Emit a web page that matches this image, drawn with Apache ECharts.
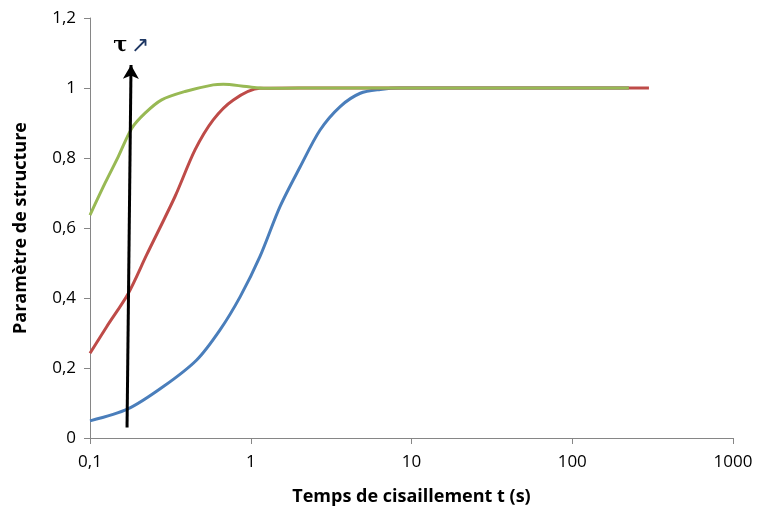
<!DOCTYPE html>
<html>
<head>
<meta charset="utf-8">
<script src="https://cdn.jsdelivr.net/npm/echarts@6/dist/echarts.min.js"></script>
<style>
    html, body { margin: 0; padding: 0; background: #fff; }
    #chart { width: 758px; height: 515px; }
</style>
</head>
<body>
<div id="chart"></div>
<script>
    // values (x in s, log scale)
    var blueData = [
        [0.1, 0.049], [0.172, 0.083], [0.286, 0.147], [0.461, 0.223], [0.644, 0.309],
        [0.86, 0.404], [1.14, 0.518], [1.52, 0.661], [2.03, 0.775], [2.7, 0.88],
        [3.6, 0.947], [4.8, 0.985], [6.4, 0.996], [8.5, 1.0], [20, 1.0], [50, 1.0],
        [100, 1.0], [225, 1.0]
    ];
    var redData = [
        [0.1, 0.242], [0.127, 0.318], [0.173, 0.413], [0.225, 0.523],
        [0.338, 0.69], [0.45, 0.823], [0.584, 0.909], [0.78, 0.966],
        [1.14, 0.999], [2, 1.0], [10, 1.0], [50, 1.0], [150, 1.0], [300, 1.0]
    ];
    var greenData = [
        [0.1, 0.637], [0.124, 0.728], [0.15, 0.804], [0.182, 0.885], [0.22, 0.928],
        [0.279, 0.966], [0.39, 0.99], [0.584, 1.009], [0.675, 1.011], [0.94, 1.004],
        [1.25, 0.999], [2, 1.0], [10, 1.0], [50, 1.0], [150, 1.0], [225, 1.0]
    ];
    var arrowStart = [0.17, 0.03];
    var arrowEnd = [0.18, 1.066];
    var arrowText = "τ";

    var xTitle = "Temps de cisaillement t (s)";
    var yTitle = "Paramètre de structure";

    var axisColor = "#868686";
    var font = "'Open Sans', 'Noto Sans', sans-serif";

    function fmtNum(v) {
        return String(+(+v).toFixed(3)).replace(".", ",");
    }

    function lineSeries(name, data, color) {
        return {
            name: name,
            type: 'line',
            data: data,
            smooth: 0.3,
            showSymbol: false,
            lineStyle: { color: color, width: 3 },
            itemStyle: { color: color },
            z: 3
        };
    }

    var chart = echarts.init(document.getElementById('chart'));

    var arrowSeries = lineSeries('arrow', [], '#000');
    arrowSeries.markLine = {
        silent: true,
        symbol: ['none', 'arrow'],
        symbolSize: [12, 14],
        lineStyle: { color: '#000', width: 3, type: 'solid' },
        label: {
            show: true,
            position: 'end',
            distance: 8,
            formatter: '{t|' + arrowText + '} {a|↗}',
            rich: {
                t: { fontFamily: 'DejaVu Serif', fontWeight: 'bold', fontSize: 21, color: '#000' },
                a: { fontFamily: 'DejaVu Sans', fontSize: 22, color: '#1f3864' }
            }
        },
        data: [[{ coord: arrowStart }, { coord: arrowEnd }]]
    };
    arrowSeries.z = 5;

    chart.setOption({
        animation: false,
        backgroundColor: '#fff',
        grid: { left: 90, right: 25, top: 18, bottom: 77 },
        xAxis: {
            type: 'log',
            logBase: 10,
            min: 0.1,
            max: 1000,
            name: xTitle,
            nameLocation: 'middle',
            nameGap: 50,
            nameTextStyle: { fontFamily: font, fontWeight: 'bold', fontSize: 18, color: '#000' },
            axisLine: { show: true, lineStyle: { color: axisColor, width: 1 } },
            axisTick: { show: true, length: 6, lineStyle: { color: axisColor } },
            minorTick: { show: false },
            splitLine: { show: false },
            axisLabel: {
                fontFamily: font, fontSize: 17, color: '#000', margin: 16,
                formatter: fmtNum
            }
        },
        yAxis: {
            type: 'value',
            min: 0,
            max: 1.2,
            interval: 0.2,
            name: yTitle,
            nameLocation: 'middle',
            nameGap: 60,
            nameTextStyle: { fontFamily: font, fontWeight: 'bold', fontSize: 18, color: '#000' },
            axisLine: { show: true, lineStyle: { color: axisColor, width: 1 } },
            axisTick: { show: true, length: 6, lineStyle: { color: axisColor } },
            splitLine: { show: false },
            axisLabel: {
                fontFamily: font, fontSize: 17, color: '#000', margin: 14,
                formatter: fmtNum
            }
        },
        series: [
            lineSeries('blue', blueData, '#4a7ebb'),
            lineSeries('red', redData, '#be4b48'),
            lineSeries('green', greenData, '#98b954'),
            arrowSeries
        ]
    });
</script>
</body>
</html>
